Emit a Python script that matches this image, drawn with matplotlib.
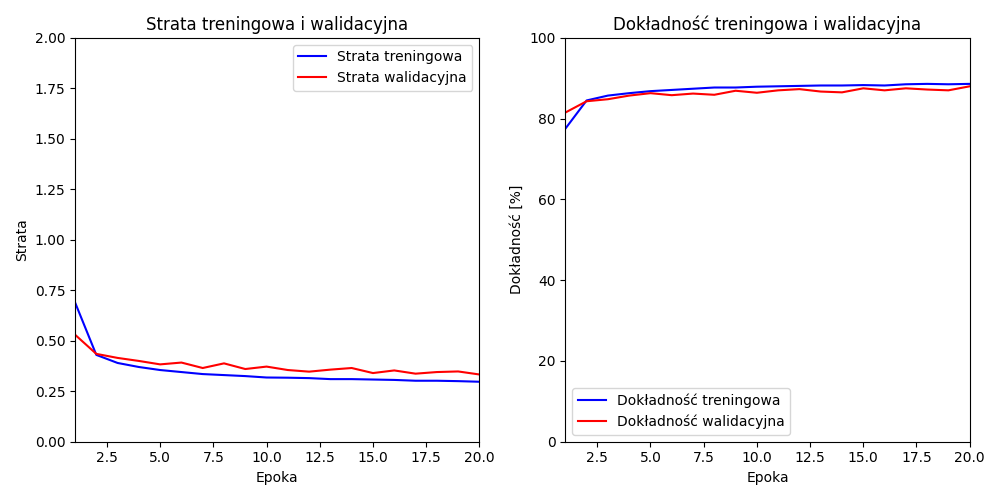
import matplotlib
matplotlib.use("Agg")
import matplotlib.pyplot as plt

epochs = list(range(1, 21))
train_loss = [0.69, 0.43, 0.39, 0.37, 0.355, 0.345, 0.335, 0.33, 0.325, 0.318,
              0.317, 0.315, 0.31, 0.31, 0.308, 0.306, 0.302, 0.302, 0.30, 0.297]
val_loss = [0.53, 0.435, 0.415, 0.40, 0.383, 0.392, 0.365, 0.388, 0.36, 0.372,
            0.355, 0.347, 0.357, 0.365, 0.34, 0.353, 0.337, 0.345, 0.348, 0.333]
train_acc = [77.5, 84.5, 85.7, 86.3, 86.8, 87.1, 87.4, 87.7, 87.7, 87.9,
             88.0, 88.1, 88.2, 88.2, 88.3, 88.2, 88.5, 88.6, 88.5, 88.6]
val_acc = [81.5, 84.3, 84.8, 85.7, 86.3, 85.8, 86.2, 85.9, 86.9, 86.4,
           87.0, 87.3, 86.7, 86.5, 87.5, 87.0, 87.5, 87.2, 87.0, 88.0]

fig, (ax1, ax2) = plt.subplots(1, 2, figsize=(10, 5), dpi=100)

ax1.plot(epochs, train_loss, color='blue', label='Strata treningowa')
ax1.plot(epochs, val_loss, color='red', label='Strata walidacyjna')
ax1.set_title('Strata treningowa i walidacyjna')
ax1.set_xlabel('Epoka')
ax1.set_ylabel('Strata')
ax1.set_xlim(1, 20)
ax1.set_ylim(0, 2)
ax1.legend(loc='upper right')

ax2.plot(epochs, train_acc, color='blue', label='Dokładność treningowa')
ax2.plot(epochs, val_acc, color='red', label='Dokładność walidacyjna')
ax2.set_title('Dokładność treningowa i walidacyjna')
ax2.set_xlabel('Epoka')
ax2.set_ylabel('Dokładność [%]')
ax2.set_xlim(1, 20)
ax2.set_ylim(0, 100)
ax2.legend(loc='lower left')

plt.tight_layout()
plt.savefig('out.png', dpi=100)
